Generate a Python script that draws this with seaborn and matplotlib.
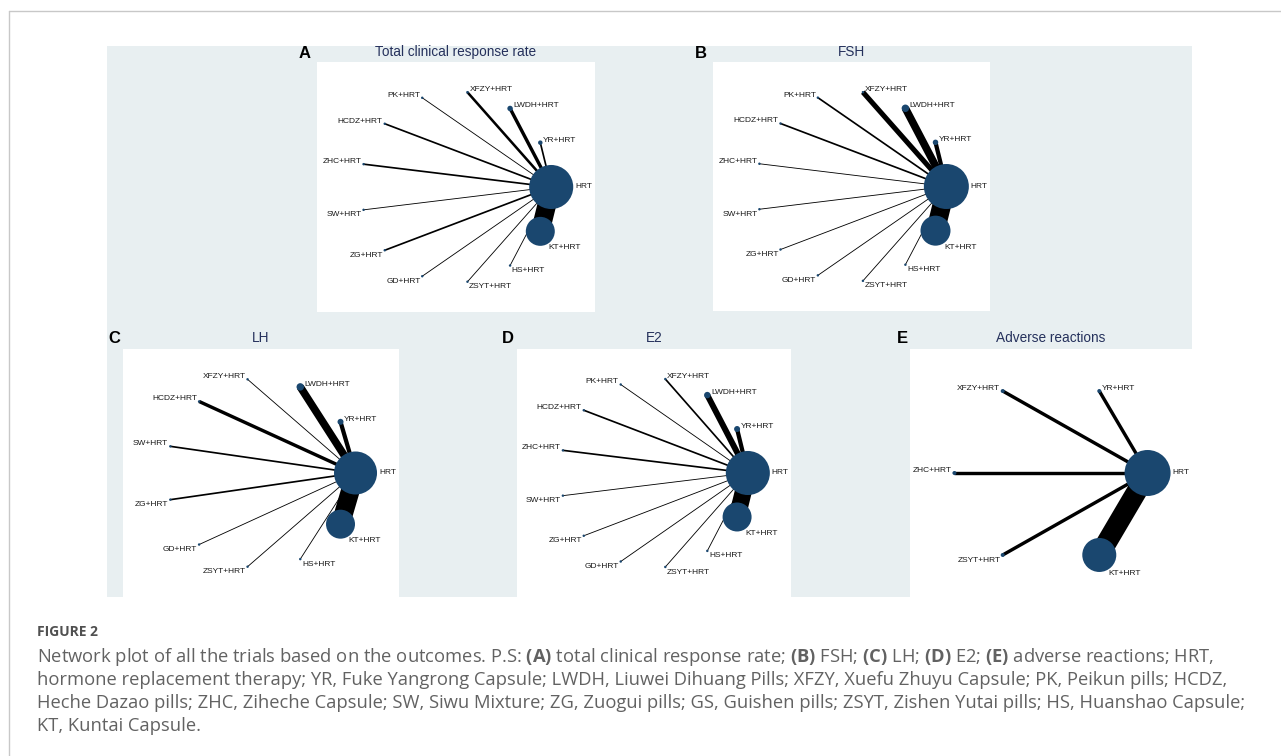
import numpy as np
import pandas as pd
import seaborn as sns
import matplotlib.pyplot as plt
from matplotlib.patches import Rectangle
from matplotlib.lines import Line2D

# ---- data (estimates) ----
titles = ["Total clinical response rate", "FSH", "LH", "E2", "Adverse reactions"]
letters = ["A", "B", "C", "D", "E"]

# treatments in clockwise order starting at the hub (HRT)
nodes_a = ["HRT", "KT", "HS", "ZSYT", "GD", "ZG", "SW", "ZHC", "HCDZ", "PK", "XFZY", "LWDH", "YR"]
nodes_b = ["HRT", "KT", "HS", "ZSYT", "GD", "ZG", "SW", "ZHC", "HCDZ", "PK", "XFZY", "LWDH", "YR"]
nodes_c = ["HRT", "KT", "HS", "ZSYT", "GD", "ZG", "SW", "HCDZ", "XFZY", "LWDH", "YR"]
nodes_d = ["HRT", "KT", "HS", "ZSYT", "GD", "ZG", "SW", "ZHC", "HCDZ", "PK", "XFZY", "LWDH", "YR"]
nodes_e = ["HRT", "KT", "ZSYT", "ZHC", "XFZY", "YR"]

# patients per node (node area)
patients_a = [1940, 840, 6, 6, 6, 6, 6, 6, 6, 6, 7, 30, 20]
patients_b = [2025, 900, 6, 6, 6, 6, 6, 6, 6, 6, 6, 56, 30]
patients_c = [1850, 840, 6, 6, 6, 6, 6, 6, 6, 56, 36]
patients_d = [1940, 840, 6, 6, 6, 6, 6, 6, 6, 6, 6, 42, 36]
patients_e = [2116, 1156, 16, 16, 16, 16]

# studies comparing each node with HRT (edge width), hub itself = 0
studies_a = [0, 22, 1, 1, 1, 2, 1, 2, 2, 1, 3, 4, 2]
studies_b = [0, 22, 1, 1, 1, 1, 1, 1, 2, 2, 6, 9, 5]
studies_c = [0, 22, 1, 1, 1, 2, 2, 4, 1, 9, 5]
studies_d = [0, 20, 1, 1, 1, 1, 1, 2, 2, 1, 2, 7, 5]
studies_e = [0, 24, 4, 4, 4, 4]

caption_lines = [
    "Network plot of all the trials based on the outcomes. P.S: (A) total clinical response rate; (B) FSH; (C) LH; (D) E2; (E) adverse reactions; HRT,",
    "hormone replacement therapy; YR, Fuke Yangrong Capsule; LWDH, Liuwei Dihuang Pills; XFZY, Xuefu Zhuyu Capsule; PK, Peikun pills; HCDZ,",
    "Heche Dazao pills; ZHC, Ziheche Capsule; SW, Siwu Mixture; ZG, Zuogui pills; GS, Guishen pills; ZSYT, Zishen Yutai pills; HS, Huanshao Capsule;",
    "KT, Kuntai Capsule.",
]

W, H = 1281, 756
NAVY = "#1a476f"
TITLE_COL = "#25315c"
BG = "#e8eff1"

sns.set_theme(style="white")
plt.rcParams["font.family"] = ["Liberation Sans", "DejaVu Sans"]
CAP_FONT = "Open Sans"
plt.rcParams["mathtext.fontset"] = "custom"
plt.rcParams["mathtext.rm"] = CAP_FONT
plt.rcParams["mathtext.bf"] = CAP_FONT + ":bold"

fig = plt.figure(figsize=(W / 100, H / 100), dpi=100)
fig.patch.set_facecolor("white")


def fx(px):
    return px / W


def fy(py):
    return 1 - py / H


# frame + grey background
fig.add_artist(Line2D([fx(9), 1], [fy(11), fy(11)], color="#c8c8c8", lw=1.0))
fig.add_artist(Line2D([fx(9), fx(9)], [fy(11), 0], color="#c8c8c8", lw=1.0))
fig.add_artist(Rectangle((fx(107), fy(597)), fx(1192 - 107), (597 - 46) / H,
                         transform=fig.transFigure, facecolor=BG, edgecolor="none", zorder=-1))

panels = [
    (nodes_a, patients_a, studies_a, (317, 62, 595, 312), (305, 53), 52),
    (nodes_b, patients_b, studies_b, (713, 62, 990, 311), (701, 53), 52),
    (nodes_c, patients_c, studies_c, (123, 349, 399, 597), (114, 339), 338),
    (nodes_d, patients_d, studies_d, (517, 349, 791, 597), (508, 339), 338),
    (nodes_e, patients_e, studies_e, (910, 349, 1192, 597), (902, 339), 338),
]

PX = 0.72  # points per pixel at 100 dpi

for (nodes, pts, studs, box, lpos, ty), title, letter in zip(panels, titles, letters):
    x0, y0, x1, y1 = box
    ax = fig.add_axes([fx(x0), fy(y1), fx(x1 - x0), (y1 - y0) / H])
    ax.set_facecolor("white")
    ax.set_xticks([])
    ax.set_yticks([])
    for sp in ax.spines.values():
        sp.set_visible(False)
    ax.set_xlim(-1.46, 1.46)
    ax.set_ylim(-1.31, 1.31)

    n = len(nodes)
    ang = -2 * np.pi * np.arange(n) / n
    df = pd.DataFrame({"node": nodes, "x": np.cos(ang), "y": np.sin(ang),
                       "patients": pts, "studies": studs, "ang": ang})
    hub = df.iloc[0]

    for _, row in df.iloc[1:].iterrows():
        ax.plot([row.x, hub.x], [row.y, hub.y], color="black",
                lw=row.studies * 0.85 * PX, solid_capstyle="butt", zorder=2)

    sns.scatterplot(data=df, x="x", y="y", s=df["patients"] * PX ** 2,
                    color=NAVY, linewidth=0, legend=False, ax=ax, zorder=3)
    ax.set_xlabel("")
    ax.set_ylabel("")

    for _, row in df.iterrows():
        r = np.sqrt(row.patients) / 2
        c, s = np.cos(row.ang), np.sin(row.ang)
        if row.node == hub.node:
            off, ha, va = (r + 2, 0), "left", "center"
        else:
            sx = 1 if c > 1e-6 else -1
            ha = "left" if sx > 0 else "right"
            if s > -1e-6:
                off, va = (sx * (0.8 * r + 1), 1), "baseline"
            else:
                off, va = (sx * (0.5 * r + 1), -(0.85 * r + 0.5)), "top"
        lab = row.node if row.node == hub.node else row.node + "+HRT"
        ax.annotate(lab, (row.x, row.y), xytext=(off[0] * PX, off[1] * PX),
                    textcoords="offset points", ha=ha, va=va, fontsize=6.0,
                    color="#1a1a1a", zorder=4, annotation_clip=False)

    fig.text(fx((x0 + x1) / 2), fy(ty), title, ha="center", va="center",
             fontsize=9.8, color=TITLE_COL)
    fig.text(fx(lpos[0]), fy(lpos[1]), letter, ha="center", va="center",
             fontsize=12, fontweight="bold", color="black")

# caption
fig.text(fx(37), fy(632), "FIGURE 2", ha="left", va="center", fontsize=10,
         fontweight="bold", color="#505050", family=CAP_FONT)


def bold_parts(t):
    for L in "ABCDE":
        t = t.replace("(%s)" % L, r"$\mathbf{(%s)}$" % L)
    return t


cap_y = [657, 680, 703, 726]
texts = []
for line, yy in zip(caption_lines, cap_y):
    texts.append(fig.text(fx(37), fy(yy), bold_parts(line), ha="left", va="center",
                          fontsize=11, color="#626262", family=CAP_FONT))
renderer = fig.canvas.get_renderer()
w = texts[0].get_window_extent(renderer).width
size = 11 * (1212 - 37) / w
for t in texts:
    t.set_fontsize(size)

fig.savefig("out.png", dpi=100, facecolor="white")
